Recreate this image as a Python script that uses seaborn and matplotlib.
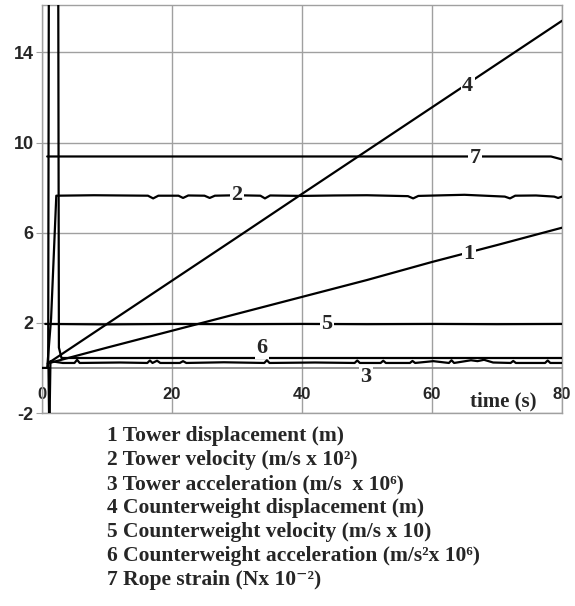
import matplotlib
matplotlib.use("Agg")
import matplotlib.pyplot as plt
import seaborn as sns
import pandas as pd

# values
t_disp = [0.9, 10, 20, 30, 40, 50, 60, 70, 80]
tower_disp = [0.2, 0.9, 1.65, 2.4, 3.15, 3.9, 4.7, 5.45, 6.22]
cw_disp = [0.2, 1.95, 3.87, 5.79, 7.72, 9.64, 11.56, 13.48, 15.4]

t_tvel = [0.8, 1.4, 2.2, 8, 16.3, 17.1, 17.9, 21.0, 21.7, 22.5, 25.0, 25.8, 26.6,
          30, 33.6, 34.3, 35.1, 40, 45, 50, 56.3, 57.1, 57.9, 62, 65, 71.2, 72.0, 72.8,
          76, 78.8, 79.4, 80]
tower_vel = [0.0, 2.2, 7.64, 7.66, 7.64, 7.52, 7.64, 7.64, 7.54, 7.65, 7.64, 7.54, 7.64,
             7.66, 7.64, 7.52, 7.65, 7.63, 7.65, 7.66, 7.62, 7.52, 7.63, 7.66, 7.68, 7.6, 7.52,
             7.64, 7.65, 7.6, 7.54, 7.6]

t_tacc = [0, 1.0, 1.12, 1.3, 3.2, 5.0, 5.4, 5.8, 12, 16.2, 16.6, 17.0, 17.7, 18.2,
          21.2, 21.7, 22.2, 28, 34.2, 34.6, 35.0, 42, 48.1, 48.5, 48.9, 52.1, 52.5, 52.9,
          56.6, 57, 57.4, 60.2, 62.6, 63, 63.4, 66, 67, 68, 69.4, 72.1, 72.5, 72.9,
          77.4, 77.8, 78.2, 80]
tower_acc = [0.0, 0.0, -3.0, 0.3, 0.22, 0.22, 0.36, 0.22, 0.24, 0.22, 0.33, 0.22, 0.32,
             0.22, 0.22, 0.3, 0.22, 0.25, 0.22, 0.34, 0.22, 0.24, 0.22, 0.33, 0.22,
             0.22, 0.32, 0.22, 0.22, 0.31, 0.22, 0.3, 0.22, 0.34, 0.22, 0.34, 0.3,
             0.36, 0.24, 0.22, 0.31, 0.22, 0.22, 0.33, 0.22, 0.22]

t_cwvel = [0.5, 10, 20, 30, 40, 50, 60, 70, 80]
cw_vel = [1.95, 1.93, 1.95, 1.94, 1.95, 1.94, 1.95, 1.94, 1.95]

t_cwacc = [0.95, 1.05, 2.5, 2.6, 3.0, 80]
cw_acc = [0.0, 17.0, 17.0, 0.9, 0.44, 0.44]

t_rope = [0.8, 20, 40, 60, 78.3, 80]
rope_strain = [9.38, 9.38, 9.38, 9.38, 9.38, 9.25]

curve_names = ["1", "2", "3", "4", "5", "6", "7"]
label_t = [65.7, 30.0, 49.8, 65.5, 43.8, 33.8, 66.6]
label_v = [5.07, 7.69, -0.4, 12.49, 1.96, 0.89, 9.33]

legend_lines = [
    "1 Tower displacement (m)",
    "2 Tower velocity (m/s x 10\u00b2)",
    "3 Tower acceleration (m/s  x 10\u2076)",
    "4 Counterweight displacement (m)",
    "5 Counterweight velocity (m/s x 10)",
    "6 Counterweight acceleration (m/s\u00b2x 10\u2076)",
    "7 Rope strain (Nx 10\u207b\u00b2)",
]

sns.set_style("white")
plt.rcParams["axes.unicode_minus"] = False
serif = ["Liberation Serif", "DejaVu Serif"]

fig = plt.figure(figsize=(5.75, 6.06), dpi=100)
ax = fig.add_axes([42 / 575, 1 - 413 / 606, 520 / 575, 408 / 606])

series = [
    (t_disp, tower_disp), (t_tvel, tower_vel), (t_tacc, tower_acc),
    (t_disp, cw_disp), (t_cwvel, cw_vel), (t_cwacc, cw_acc), (t_rope, rope_strain),
]
for tt, vv in series:
    df = pd.DataFrame({"t": tt, "v": vv})
    sns.lineplot(data=df, x="t", y="v", ax=ax, color="black", linewidth=1.6,
                 estimator=None, sort=False, zorder=3)

ax.axhline(0, color="#808080", linewidth=1.2, zorder=2)

ax.set_xlim(0, 80)
ax.set_ylim(-2, 16.1)
ax.set_xticks([0, 20, 40, 60, 80])
ax.set_yticks([-2, 2, 6, 10, 14])
ax.grid(True, color="#a0a0a0", linewidth=1.0)
ax.set_axisbelow(True)
for s in ax.spines.values():
    s.set_color("#a0a0a0")
    s.set_linewidth(1.0)
ax.set_xlabel("")
ax.set_ylabel("")
ax.tick_params(axis="y", left=True, length=4, color="#a0a0a0", labelsize=13, pad=2)
ax.tick_params(axis="x", length=0, labelsize=12, pad=-19)
for lab in ax.get_xticklabels() + ax.get_yticklabels():
    lab.set_fontfamily(["Liberation Sans", "DejaVu Sans"])
    lab.set_fontweight("bold")

for name, x, y in zip(curve_names, label_t, label_v):
    ax.text(x, y, name, ha="center", va="center", fontsize=16, fontweight="bold",
            family=serif, zorder=4,
            bbox=dict(facecolor="white", edgecolor="none", pad=1.0))

ax.text(71.0, -1.5, "time (s)", ha="center", va="center", fontsize=15,
        fontweight="bold", family=serif)

for i, line in enumerate(legend_lines):
    fig.text(107 / 575, 1 - (436 + 24 * i) / 606, line, ha="left", va="center",
             fontsize=15.5, fontweight="bold", family=serif)

fig.savefig("out.png", dpi=100)
